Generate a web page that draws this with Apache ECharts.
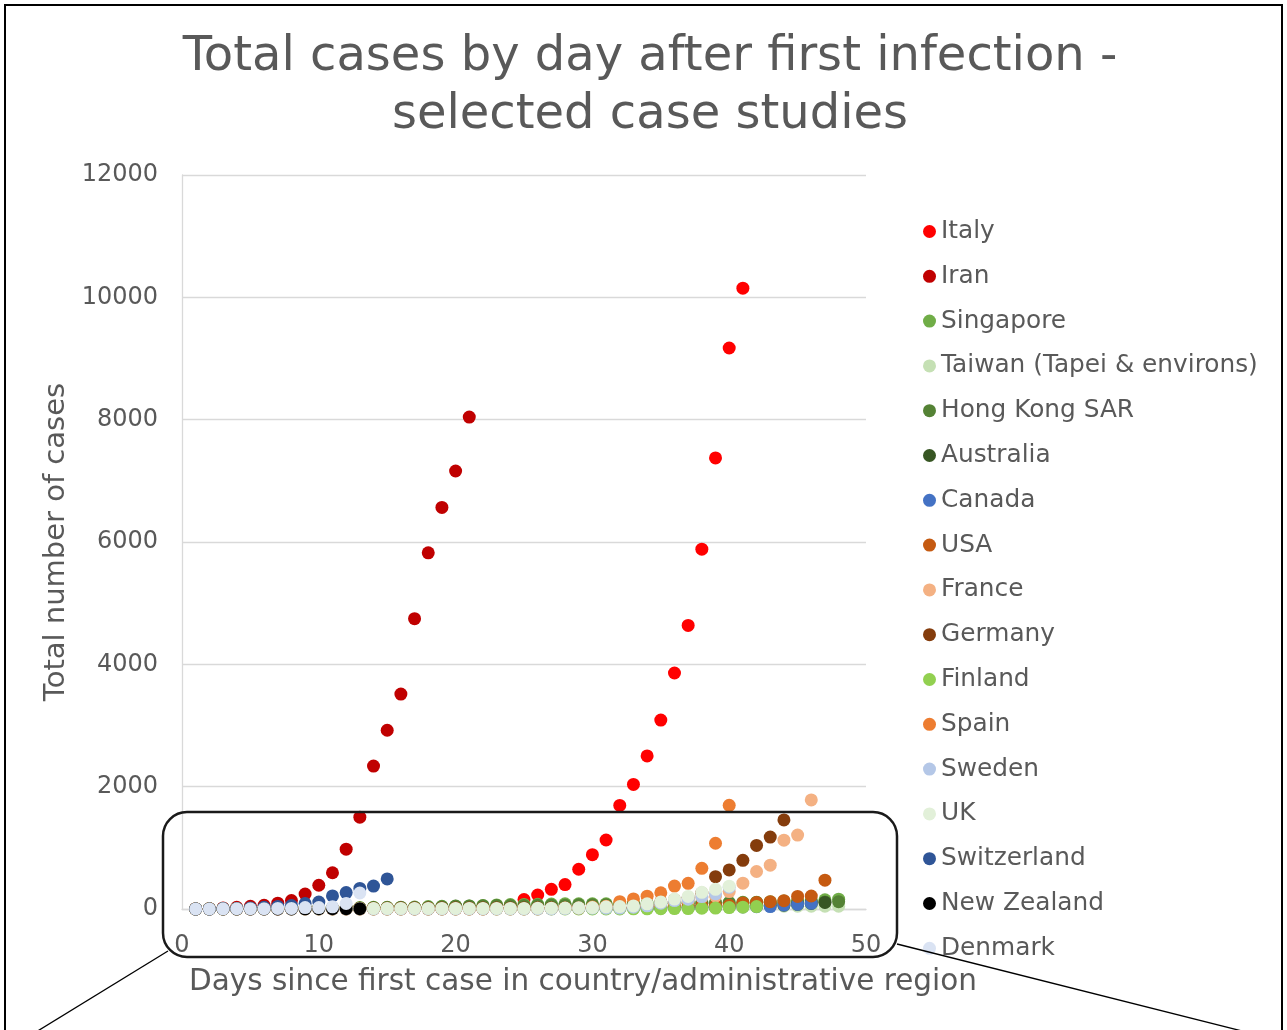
<!DOCTYPE html>
<html>
<head>
<meta charset="utf-8">
<script src="https://cdn.jsdelivr.net/npm/echarts@6/dist/echarts.min.js"></script>
<style>
html,body{margin:0;padding:0;background:#fff;}
#chart{width:1287px;height:1030px;}
</style>
</head>
<body>
<div id="chart"></div>
<script>
// ---- Data (day 1 = first reported case) ----
const countries = ["Italy","Iran","Singapore","Taiwan (Tapei & environs)","Hong Kong SAR","Australia","Canada","USA","France","Germany","Finland","Spain","Sweden","UK","Switzerland","New Zealand","Denmark"];
const colors = ["#FF0000","#C00000","#70AD47","#C5E0B4","#548235","#375623","#4472C4","#C55A11","#F4B183","#843C0C","#92D050","#ED7D31","#B4C7E7","#E2F0D9","#2F5597","#000000","#DAE3F3"];

const italy = [2,2,2,2,2,2,2,3,3,3,3,3,3,3,3,3,3,3,3,3,3,3,20,62,155,229,322,400,650,888,1128,1694,2036,2502,3089,3858,4636,5883,7375,9172,10149];
const iran = [2,5,18,28,43,61,95,139,245,388,593,978,1501,2336,2922,3513,4747,5823,6566,7161,8042];
const singapore = [1,3,3,4,5,7,7,10,13,16,18,18,24,28,28,30,33,40,45,47,50,58,67,72,75,77,81,84,84,85,85,89,89,91,93,96,98,102,106,108,110,112,117,130,138,150,150,160];
const taiwan = [1,1,3,3,4,5,8,8,9,10,10,10,10,11,11,16,16,17,18,18,18,18,18,18,18,18,20,22,23,24,26,26,28,30,31,32,34,39,40,41,42,42,44,45,45,45,45,47];
const hongKong = [2,2,5,8,8,8,10,10,12,13,15,15,17,21,24,25,26,29,38,49,50,53,56,56,57,60,62,63,68,69,70,74,81,85,91,93,94,95,100,100,101,105,105,107,108,114,115,120];
const australia = [1,4,4,5,5,7,9,12,12,12,12,13,14,15,15,15,15,15,15,15,15,15,15,15,15,15,15,15,15,15,21,22,22,22,23,25,26,27,30,39,52,55,60,63,76,91,107];
const canada = [1,1,2,2,3,3,4,4,4,4,4,4,5,5,5,5,5,5,5,5,7,7,7,7,7,7,7,8,9,9,10,11,12,13,14,20,24,27,30,33,34,37,40,64,77,93];
const usa = [1,1,2,2,5,5,5,5,5,6,6,8,11,11,11,11,12,12,12,12,12,13,13,14,14,15,15,15,15,15,15,15,15,35,35,35,53,53,57,60,100,108,120,136,205,213,472];
const france = [3,3,3,4,5,5,6,6,6,6,6,6,6,6,11,11,11,11,11,11,11,12,12,12,12,12,12,12,12,12,12,14,18,38,57,100,130,191,212,285,423,613,716,1126,1209,1784];
const germany = [1,4,4,4,5,8,10,12,12,12,12,13,13,14,14,16,16,16,16,16,16,16,16,16,16,16,16,16,16,18,21,26,53,66,117,150,188,262,529,639,795,1040,1176,1457];
const finland = [1,1,1,1,1,1,1,1,1,1,1,1,1,1,1,1,1,1,1,1,1,1,1,1,1,1,1,1,1,2,2,2,3,3,6,7,7,12,15,23,30,40];
const spain = [1,1,1,1,1,1,1,1,1,2,2,2,2,2,2,2,2,2,2,2,2,2,2,2,2,2,6,13,15,32,45,120,165,210,265,375,420,665,1075,1695];
const sweden = [1,1,1,1,1,1,1,1,1,1,1,1,1,1,1,1,1,1,1,1,1,1,1,1,1,1,2,7,12,13,14,15,30,52,94,137,161,203,248,355];
const uk = [2,2,2,2,2,2,3,3,3,3,8,8,9,9,9,9,9,9,9,9,9,9,9,9,9,13,13,15,20,23,36,40,51,85,116,163,206,273,321,373];
const switzerland = [1,1,8,8,18,27,42,56,90,114,214,268,337,374,491];
const newZealand = [1,1,1,1,1,1,2,2,3,4,4,5,5];
const denmark = [1,1,3,4,4,6,10,10,23,23,35,90,262];

const seriesValues = [italy,iran,singapore,taiwan,hongKong,australia,canada,usa,france,germany,finland,spain,sweden,uk,switzerland,newZealand,denmark];

const xTicks = {min:0, max:50, interval:10};
const yTicks = {min:0, max:12000, interval:2000};

// ---- Chart ----
const FONT = '"DejaVu Sans", Verdana, sans-serif';
const TXT = '#595959';
const chart = echarts.init(document.getElementById('chart'), null, {renderer:'canvas'});

const series = countries.map((name, i) => ({
  name: name,
  type: 'scatter',
  symbol: 'circle',
  symbolSize: 13,
  itemStyle: {color: colors[i], opacity: 1},
  emphasis: {disabled: true},
  data: seriesValues[i].map((v, d) => [d + 1, v])
}));

chart.setOption({
  animation: false,
  backgroundColor: '#ffffff',
  color: colors,
  title: {
    text: 'Total cases by day after first infection -\nselected case studies',
    left: 645,
    top: 24,
    textAlign: 'center',
    textStyle: {fontFamily: FONT, fontSize: 48, fontWeight: 'normal', color: TXT, lineHeight: 58}
  },
  grid: {left: 182, top: 175, width: 684, height: 734},
  xAxis: {
    type: 'value',
    min: xTicks.min, max: xTicks.max, interval: xTicks.interval,
    axisLine: {show: true, lineStyle: {color: '#D9D9D9', width: 1.3}},
    axisTick: {show: false},
    splitLine: {show: false},
    axisLabel: {fontFamily: FONT, fontSize: 24, color: TXT, margin: 25}
  },
  yAxis: {
    type: 'value',
    min: yTicks.min, max: yTicks.max, interval: yTicks.interval,
    name: 'Total number of cases',
    nameLocation: 'middle',
    nameGap: 101,
    nameTextStyle: {fontFamily: FONT, fontSize: 29, color: TXT},
    axisLine: {show: true, lineStyle: {color: '#D9D9D9', width: 1.3}},
    axisTick: {show: false},
    splitLine: {show: true, lineStyle: {color: '#D9D9D9', width: 1.3}},
    axisLabel: {fontFamily: FONT, fontSize: 24, color: TXT, margin: 24, formatter: v => String(v)}
  },
  legend: {
    orient: 'vertical',
    left: 918,
    top: 214,
    icon: 'circle',
    itemWidth: 13,
    itemHeight: 13,
    itemGap: 19.8,
    selectedMode: false,
    textStyle: {fontFamily: FONT, fontSize: 24.8, color: TXT, lineHeight: 24},
    data: countries
  },
  graphic: [
    {type: 'text', z: 10,
     style: {text: 'Days since first case in country/administrative region', x: 583, y: 982, textAlign: 'center', textVerticalAlign: 'middle',
             font: '29.5px ' + FONT, fill: TXT}},
    {type: 'rect', z: 5, shape: {x: 5, y: 5, width: 1277, height: 1040},
     style: {fill: 'none', stroke: '#000', lineWidth: 2}},
    {type: 'rect', z: 50, shape: {x: 163, y: 812, width: 734, height: 145, r: 24},
     style: {fill: 'none', stroke: '#1a1a1a', lineWidth: 2.5}},
    {type: 'line', z: 50, shape: {x1: 168, y1: 951, x2: 36, y2: 1032},
     style: {stroke: '#000', lineWidth: 1.3}},
    {type: 'line', z: 50, shape: {x1: 897, y1: 944, x2: 1246, y2: 1032},
     style: {stroke: '#000', lineWidth: 1.3}}
  ],
  series: series
});
</script>
</body>
</html>
